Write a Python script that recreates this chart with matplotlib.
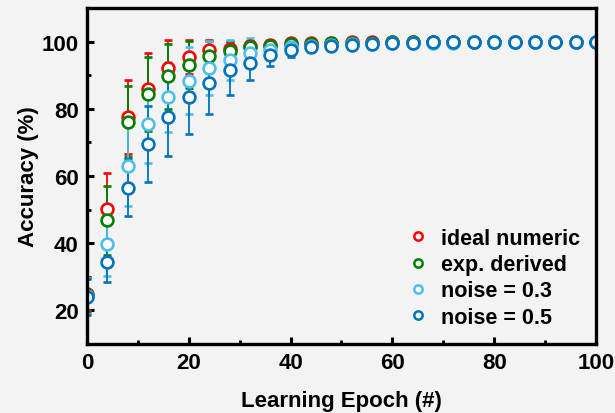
import matplotlib.pyplot as plt
from matplotlib.lines import Line2D
from matplotlib.ticker import MultipleLocator

plt.rcParams['font.family'] = ['Liberation Sans', 'DejaVu Sans']
plt.rcParams['font.weight'] = 'bold'

# data
epochs = [0, 4, 8, 12, 16, 20, 24, 28, 32, 36, 40, 44, 48, 52,
          56, 60, 64, 68, 72, 76, 80, 84, 88, 92, 96, 100]

ideal = [25.0, 50.3, 77.7, 85.9, 92.2, 95.4, 97.4, 97.9, 98.6, 99.1, 99.5, 99.6, 99.7,
         99.8, 99.8, 99.9, 99.9, 99.9, 99.9, 100, 100, 100, 100, 100, 100, 100]
ideal_err = [5.0, 10.6, 11.0, 10.7, 8.4, 5.0, 3.0, 2.0, 1.5, 1.0, 0.8, 0.6, 0.5,
             0.4, 0.3, 0.3, 0.2, 0.2, 0.2, 0.1, 0.1, 0.1, 0.1, 0.1, 0.1, 0.1]

derived = [24.6, 46.8, 76.2, 84.5, 89.7, 93.2, 95.8, 97.1, 98.3, 98.8, 99.2, 99.4, 99.5,
           99.6, 99.7, 99.8, 99.8, 99.9, 99.9, 99.9, 100, 100, 100, 100, 100, 100]
derived_err = [5.0, 10.2, 10.5, 11.0, 9.7, 7.0, 4.5, 3.0, 2.0, 1.5, 1.0, 0.8, 0.6,
               0.5, 0.4, 0.3, 0.3, 0.2, 0.2, 0.2, 0.1, 0.1, 0.1, 0.1, 0.1, 0.1]

noise03 = [24.3, 39.7, 63.1, 75.6, 83.5, 88.4, 92.2, 94.6, 96.6, 97.6, 98.3, 98.7, 99.0,
           99.2, 99.4, 99.5, 99.6, 99.7, 99.7, 99.8, 99.8, 99.9, 99.9, 99.9, 100, 100]
noise03_err = [5.3, 9.5, 12.0, 11.6, 10.4, 9.9, 8.0, 6.0, 4.5, 3.0, 2.2, 1.6, 1.2,
               0.9, 0.7, 0.5, 0.4, 0.3, 0.3, 0.2, 0.2, 0.2, 0.1, 0.1, 0.1, 0.1]

noise05 = [24.0, 34.4, 56.5, 69.6, 77.6, 83.5, 87.7, 91.5, 93.7, 96.1, 97.6, 98.3, 98.6,
           99.1, 99.4, 99.6, 99.7, 99.8, 99.8, 99.9, 99.9, 99.9, 100, 100, 100, 100]
noise05_err = [5.3, 6.0, 8.5, 11.3, 11.7, 10.9, 9.2, 7.5, 5.2, 3.4, 2.2, 1.5, 1.1,
               0.8, 0.6, 0.4, 0.3, 0.3, 0.2, 0.2, 0.2, 0.1, 0.1, 0.1, 0.1, 0.1]

labels = ['ideal numeric', 'exp. derived', 'noise = 0.3', 'noise = 0.5']
colors = ['#ff0000', '#008000', '#4dbeee', '#0072bd']
bg = '#f3f3f3'

fig = plt.figure(figsize=(6.15, 4.14), dpi=100, facecolor=bg)
ax = fig.add_axes([0.1415, 0.1667, 0.8275, 0.8113], facecolor=bg)

series = [(ideal, ideal_err), (derived, derived_err), (noise03, noise03_err), (noise05, noise05_err)]
for (y, e), c in zip(series, colors):
    ax.errorbar(epochs, y, yerr=e, fmt='o', color=c, ecolor=c, mfc='white', mec=c,
                ms=8.5, mew=1.9, elinewidth=1.3, capsize=3, capthick=1.3)

ax.set_xlim(0, 100)
ax.set_ylim(10, 110)
ax.xaxis.set_major_locator(MultipleLocator(20))
ax.xaxis.set_minor_locator(MultipleLocator(10))
ax.yaxis.set_major_locator(MultipleLocator(20))
ax.yaxis.set_minor_locator(MultipleLocator(10))
ax.set_yticks([20, 40, 60, 80, 100])
ax.tick_params(which='major', direction='in', length=5, width=2.2, labelsize=16, pad=6)
ax.tick_params(which='minor', direction='in', length=3, width=2.0)
for s in ax.spines.values():
    s.set_linewidth(2.4)

ax.set_xlabel('Learning Epoch (#)', fontsize=16, fontweight='bold', labelpad=12)
ax.set_ylabel('Accuracy (%)', fontsize=16, fontweight='bold', labelpad=2)

handles = [Line2D([], [], ls='none', marker='o', color=c, mfc='white', mec=c, ms=6, mew=1.8)
           for c in colors]
ax.legend(handles, labels, loc='lower right', frameon=False, fontsize=15.5,
          handlelength=0.8, handletextpad=0.65, labelspacing=0.25,
          bbox_to_anchor=(1.0, 0.0), borderaxespad=0.35)

fig.savefig('out.png', dpi=100, facecolor=bg)
